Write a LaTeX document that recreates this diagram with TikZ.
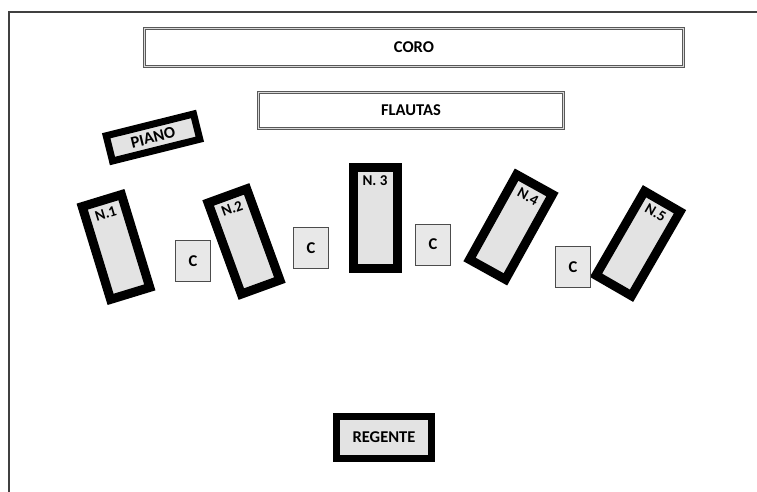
\documentclass[tikz,border=0pt]{standalone}
\usepackage{fontspec}
\setmainfont{Carlito}
\usetikzlibrary{calc}
\begin{document}
\begin{tikzpicture}[
    x=1pt, y=-1pt,
    every node/.style={font=\fontsize{16.5}{19}\selectfont\bfseries},
    frame/.style={draw=black!75, line width=1.4pt},
    section/.style={rectangle, draw=black!65, line width=0.7pt, double=gray!30,
        double distance=1.6pt, fill=white, inner sep=0pt},
    player/.style={rectangle, draw=black, line width=9pt, fill=gray!22,
        minimum width=41pt, minimum height=97pt, inner sep=0pt},
    chair/.style={rectangle, draw=black!70, line width=1pt, fill=gray!18,
        minimum width=35pt, minimum height=41pt, inner sep=0pt},
    heavy/.style={rectangle, draw=black, line width=7pt, fill=gray!22, inner sep=0pt},
    tag/.style={anchor=north, inner xsep=0pt, inner ysep=0pt, outer sep=0pt,
        font=\fontsize{15}{17}\selectfont\bfseries},
]
\useasboundingbox (0,0) rectangle (757,492);
\draw[frame] (9,492) |- (757,12);

% back rows
\node[section, minimum width=539pt, minimum height=38pt] (coro) at (414,47.5) {CORO};
\node[section, minimum width=305pt, minimum height=36pt] (flautas) at (411,110.5) {FLAUTAS};
\node[heavy, minimum width=90pt, minimum height=26pt, rotate=14] (piano) at (153,137.5) {PIANO};

% players
\node[player, rotate=17] (n1) at (116,247) {};
\node[player, rotate=20] (n2) at (244,241.5) {};
\node[player, minimum width=44pt, minimum height=101pt] (n3) at (375,218) {};
\node[player, rotate=-29] (n4) at (511,227) {};
\node[player, rotate=-30] (n5) at (638,243.5) {};
\node[tag, rotate=17] (t1) at ($(n1.north)!13pt!(n1.center)$) {N.1};
\node[tag, rotate=20] (t2) at ($(n2.north)!13pt!(n2.center)$) {N.2};
\node[tag] (t3) at ($(n3.north)!13pt!(n3.center)$) {N. 3};
\node[tag, rotate=-29] (t4) at ($(n4.north)!13pt!(n4.center)$) {N.4};
\node[tag, rotate=-30] (t5) at ($(n5.north)!13pt!(n5.center)$) {N.5};

% chairs
\node[chair] (c1) at (193,261) {C};
\node[chair] (c2) at (311,248) {C};
\node[chair] (c3) at (433,244.5) {C};
\node[chair] (c4) at (573,267) {C};

\node[heavy, minimum width=95pt, minimum height=42pt] (regente) at (384,437.5) {REGENTE};
\end{tikzpicture}
\end{document}
